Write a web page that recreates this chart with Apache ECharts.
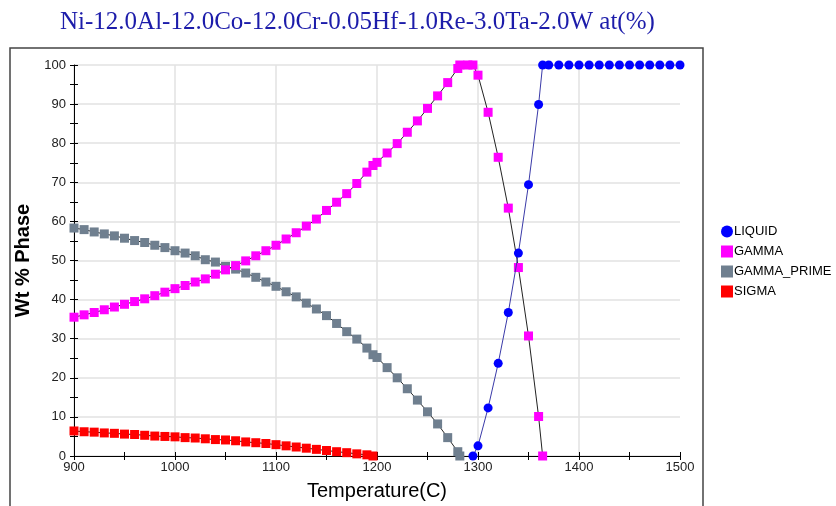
<!DOCTYPE html>
<html>
<head>
<meta charset="utf-8">
<script src="https://cdn.jsdelivr.net/npm/echarts@6/dist/echarts.min.js"></script>
<style>
  html, body { margin: 0; padding: 0; background: #fff; }
  #chart { width: 836px; height: 506px; }
</style>
</head>
<body>
<div id="chart"></div>
<script>
// temperatures (C) and wt % values
const liquidT = [1295, 1300, 1310, 1320, 1330, 1340, 1350, 1360, 1364, 1370, 1380, 1390, 1400, 1410, 1420, 1430, 1440, 1450, 1460, 1470, 1480, 1490, 1500];
const liquidWt = [0, 2.6, 12.3, 23.7, 36.7, 51.9, 69.4, 89.9, 100, 100, 100, 100, 100, 100, 100, 100, 100, 100, 100, 100, 100, 100, 100];

const gammaT = [900, 910, 920, 930, 940, 950, 960, 970, 980, 990, 1000, 1010, 1020, 1030, 1040, 1050, 1060, 1070, 1080, 1090,
  1100, 1110, 1120, 1130, 1140, 1150, 1160, 1170, 1180, 1190, 1196, 1200, 1210, 1220, 1230, 1240, 1250, 1260, 1270, 1280,
  1282, 1290, 1295, 1300, 1310, 1320, 1330, 1340, 1350, 1360, 1364];
const gammaWt = [35.5, 36.1, 36.7, 37.4, 38.1, 38.8, 39.5, 40.2, 41.0, 41.9, 42.8, 43.6, 44.5, 45.3, 46.5, 47.6, 48.7, 49.9, 51.2, 52.5,
  53.9, 55.5, 57.1, 58.8, 60.6, 62.8, 64.9, 67.1, 69.7, 72.6, 74.3, 75.1, 77.5, 79.9, 82.8, 85.7, 88.9, 92.1, 95.5, 99.1,
  100, 100, 100, 97.4, 87.9, 76.4, 63.4, 48.2, 30.7, 10.1, 0];

const primeT = [900, 910, 920, 930, 940, 950, 960, 970, 980, 990, 1000, 1010, 1020, 1030, 1040, 1050, 1060, 1070, 1080, 1090,
  1100, 1110, 1120, 1130, 1140, 1150, 1160, 1170, 1180, 1190, 1196, 1200, 1210, 1220, 1230, 1240, 1250, 1260, 1270, 1280, 1282];
const primeWt = [58.3, 57.9, 57.3, 56.8, 56.3, 55.7, 55.1, 54.6, 53.9, 53.3, 52.5, 51.9, 51.2, 50.2, 49.6, 48.5, 47.8, 46.8, 45.7, 44.5,
  43.4, 42.0, 40.7, 39.1, 37.6, 35.9, 33.9, 31.8, 29.9, 27.6, 25.9, 25.2, 22.6, 20.0, 17.2, 14.3, 11.3, 8.2, 4.7, 1.1, 0];

const sigmaT = [900, 910, 920, 930, 940, 950, 960, 970, 980, 990, 1000, 1010, 1020, 1030, 1040, 1050, 1060, 1070, 1080, 1090,
  1100, 1110, 1120, 1130, 1140, 1150, 1160, 1170, 1180, 1190, 1196];
const sigmaWt = [6.4, 6.2, 6.1, 5.9, 5.8, 5.6, 5.5, 5.3, 5.1, 5.0, 4.9, 4.7, 4.6, 4.4, 4.2, 4.1, 3.9, 3.6, 3.4, 3.2,
  2.9, 2.6, 2.3, 2.0, 1.7, 1.4, 1.1, 0.85, 0.55, 0.3, 0];

const xTicks = [900, 1500, 100];
const yTicks = [0, 100, 10];

function pairs(t, v) {
  return t.map((x, i) => [x, v[i]]);
}

const chart = echarts.init(document.getElementById('chart'));

const labelFont = { fontFamily: 'Liberation Sans, Arial, sans-serif', fontSize: 13, color: '#222' };

// an axis that only draws ticks on the inner side, so ticks cross the axis line
const innerX = {
  type: 'value', min: xTicks[0], max: xTicks[1], interval: xTicks[2], position: 'bottom',
  axisLine: { show: false }, axisLabel: { show: false }, splitLine: { show: false },
  axisTick: { show: true, inside: true, length: 4, lineStyle: { color: '#000' } },
  minorTick: { show: true, splitNumber: 2, length: 4, lineStyle: { color: '#000' } }
};
const innerY = {
  type: 'value', min: yTicks[0], max: yTicks[1], interval: yTicks[2], position: 'left',
  axisLine: { show: false }, axisLabel: { show: false }, splitLine: { show: false },
  axisTick: { show: true, inside: true, length: 4, lineStyle: { color: '#000' } },
  minorTick: { show: true, splitNumber: 2, length: 4, lineStyle: { color: '#000' } }
};

const option = {
  animation: false,
  backgroundColor: '#fff',
  title: {
    text: 'Ni-12.0Al-12.0Co-12.0Cr-0.05Hf-1.0Re-3.0Ta-2.0W at(%)',
    left: 55,
    top: 5,
    textStyle: { fontFamily: 'Liberation Serif, Times New Roman, serif', fontSize: 25, fontWeight: 'normal', color: '#1c1caa' }
  },
  graphic: [{
    type: 'rect',
    shape: { x: 10, y: 48, width: 693, height: 480 },
    style: { fill: 'none', stroke: '#444', lineWidth: 1.5 },
    silent: true
  }],
  legend: {
    orient: 'vertical',
    left: 716,
    top: 220,
    itemWidth: 12,
    itemHeight: 12,
    itemGap: 7,
    textStyle: { fontFamily: 'Liberation Sans, Arial, sans-serif', fontSize: 13, color: '#000', padding: [0, 0, 0, -4] },
    data: [
      { name: 'LIQUID', icon: 'circle' },
      { name: 'GAMMA', icon: 'rect' },
      { name: 'GAMMA_PRIME', icon: 'rect' },
      { name: 'SIGMA', icon: 'rect' }
    ]
  },
  grid: { left: 74, right: 156, top: 65, bottom: 50 },
  xAxis: [{
    type: 'value',
    min: xTicks[0],
    max: xTicks[1],
    interval: xTicks[2],
    name: 'Temperature(C)',
    nameLocation: 'middle',
    nameGap: 25,
    nameTextStyle: { fontFamily: 'Liberation Sans, Arial, sans-serif', fontSize: 20, color: '#000' },
    axisLine: { show: true, lineStyle: { color: '#000', width: 1 } },
    axisTick: { show: true, length: 4, lineStyle: { color: '#000' } },
    minorTick: { show: true, splitNumber: 2, length: 4, lineStyle: { color: '#000' } },
    axisLabel: Object.assign({ margin: 5, formatter: v => String(v) }, labelFont),
    splitLine: { show: true, showMaxLine: false, lineStyle: { color: '#e2e2e2', width: 1.5 } }
  }, innerX],
  yAxis: [{
    type: 'value',
    min: yTicks[0],
    max: yTicks[1],
    interval: yTicks[2],
    name: 'Wt % Phase',
    nameLocation: 'middle',
    nameGap: 31,
    nameTextStyle: { fontFamily: 'Liberation Sans, Arial, sans-serif', fontSize: 20, fontWeight: 'bold', color: '#000' },
    axisLine: { show: true, lineStyle: { color: '#000', width: 1 } },
    axisTick: { show: true, length: 4, lineStyle: { color: '#000' } },
    minorTick: { show: true, splitNumber: 2, length: 4, lineStyle: { color: '#000' } },
    axisLabel: Object.assign({ margin: 8 }, labelFont),
    splitLine: { show: true, lineStyle: { color: '#e2e2e2', width: 1.5 } }
  }, innerY],
  series: [
    {
      name: 'LIQUID', type: 'line', data: pairs(liquidT, liquidWt),
      symbol: 'circle', symbolSize: 9,
      itemStyle: { color: '#0000ff' },
      lineStyle: { color: '#3a3aa8', width: 1 },
      z: 5
    },
    {
      name: 'GAMMA', type: 'line', data: pairs(gammaT, gammaWt),
      symbol: 'rect', symbolSize: 9,
      itemStyle: { color: '#ff00ff' },
      lineStyle: { color: '#222', width: 1 },
      z: 4
    },
    {
      name: 'GAMMA_PRIME', type: 'line', data: pairs(primeT, primeWt),
      symbol: 'rect', symbolSize: 9,
      itemStyle: { color: '#6f7f8f' },
      lineStyle: { color: '#222', width: 1 },
      z: 3
    },
    {
      name: 'SIGMA', type: 'line', data: pairs(sigmaT, sigmaWt),
      symbol: 'rect', symbolSize: 9,
      itemStyle: { color: '#ff0000' },
      lineStyle: { color: '#222', width: 1 },
      z: 2
    }
  ]
};

chart.setOption(option);
</script>
</body>
</html>
